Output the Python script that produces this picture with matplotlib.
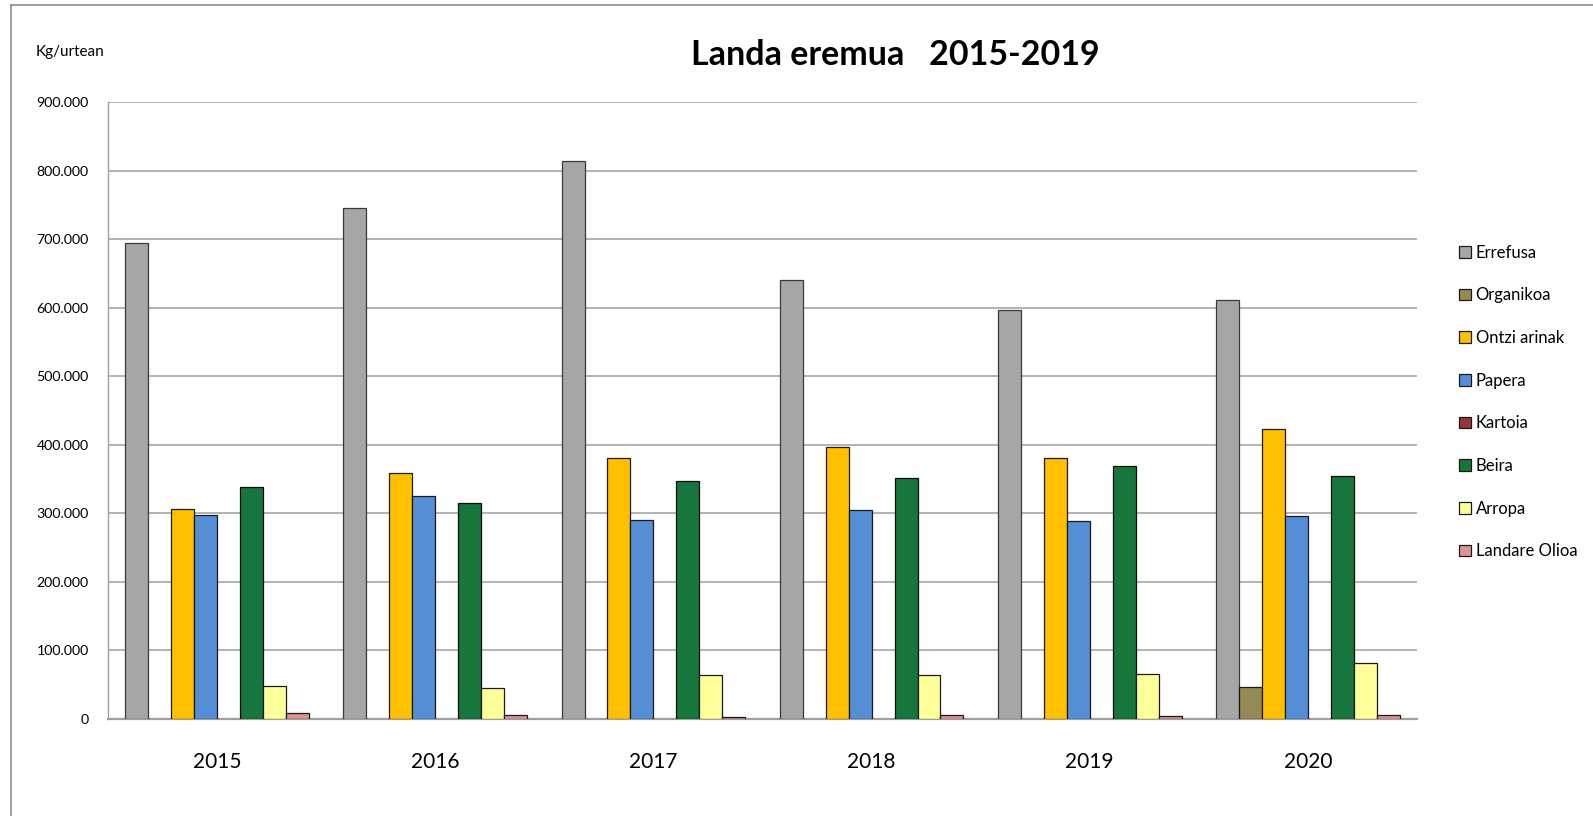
import matplotlib
matplotlib.use("Agg")
import matplotlib.pyplot as plt
from matplotlib.lines import Line2D
from matplotlib.patches import Patch
from matplotlib.ticker import FuncFormatter
import numpy as np

plt.rcParams['font.family'] = ['Lato', 'DejaVu Sans']

years = ["2015", "2016", "2017", "2018", "2019", "2020"]
series_names = ["Errefusa", "Organikoa", "Ontzi arinak", "Papera",
                "Kartoia", "Beira", "Arropa", "Landare Olioa"]

errefusa = [695000, 745000, 814000, 641000, 597000, 611000]
organikoa = [0, 0, 0, 0, 0, 46000]
ontzi_arinak = [307000, 359000, 380000, 397000, 380000, 423000]
papera = [297000, 325000, 290000, 305000, 289000, 296000]
kartoia = [0, 0, 0, 0, 0, 0]
beira = [339000, 315000, 347000, 351000, 369000, 354000]
arropa = [48000, 45000, 64000, 64000, 65000, 81000]
landare_olioa = [9000, 6000, 3500, 6000, 4000, 6500]

series_values = [errefusa, organikoa, ontzi_arinak, papera,
                 kartoia, beira, arropa, landare_olioa]
colors = ["#A6A6A6", "#948A54", "#FFC000", "#558ED5",
          "#953735", "#17763D", "#FFFF99", "#D99694"]
edge_colors = ["#3a3a3a", "#1a1a1a", "#1a1a1a", "#1a1a1a",
               "#1a1a1a", "#0a0a0a", "#1a1a1a", "#1a1a1a"]

fig = plt.figure(figsize=(15.93, 8.16), dpi=100)
ax = fig.add_axes([108 / 1593, 1 - 719 / 816, (1417 - 108) / 1593, (719 - 102) / 816])

n = len(series_names)
width = 1 / (n + 1.5)
x = np.arange(len(years))
for j, (vals, c, ec) in enumerate(zip(series_values, colors, edge_colors)):
    lws = [0.9 if v > 0 else 0 for v in vals]
    ax.bar(x + (j - (n - 1) / 2) * width, vals, width, color=c,
           edgecolor=ec, linewidth=lws, zorder=3)

ax.set_xlim(-0.5, len(years) - 0.5)
ax.set_ylim(0, 900000)
ax.set_yticks(np.arange(0, 900001, 100000))
ax.yaxis.set_major_formatter(FuncFormatter(lambda v, p: f"{int(v):,}".replace(",", ".")))
ax.set_xticks(x)
ax.set_xticklabels(years, fontsize=15)
ax.tick_params(axis='y', length=0, pad=14, labelsize=10.2)
ax.tick_params(axis='x', length=0, pad=24)
ax.grid(axis='y', color='#9f9f9f', linewidth=1.1, zorder=0)
ax.set_axisbelow(True)
for s in ('top', 'right'):
    ax.spines[s].set_visible(False)
ax.spines['left'].set_color('#9f9f9f')
ax.spines['left'].set_linewidth(1.0)
ax.spines['bottom'].set_color('#9f9f9f')
ax.spines['bottom'].set_linewidth(1.6)

fig.text(895 / 1593, 1 - 55 / 816, "Landa eremua   2015-2019", ha='center', va='center',
         fontsize=24.5, fontweight='bold')
fig.text(36 / 1593, 1 - 52 / 816, "Kg/urtean", ha='left', va='center', fontsize=11)

handles = [Patch(facecolor=c, edgecolor='#1a1a1a', linewidth=0.9) for c in colors]
fig.legend(handles, series_names, loc='upper left',
           bbox_to_anchor=(1452 / 1593, 1 - 238 / 816), frameon=False,
           fontsize=12, handlelength=0.72, handleheight=0.72,
           handletextpad=0.3, labelspacing=1.60, borderaxespad=0)

# outer chart frame (left and top edges)
fig.add_artist(Line2D([11 / 1593, 11 / 1593], [0, 1 - 5 / 816], transform=fig.transFigure,
                      color='#8c8c8c', linewidth=1.2))
fig.add_artist(Line2D([11 / 1593, 1], [1 - 5 / 816, 1 - 5 / 816], transform=fig.transFigure,
                      color='#8c8c8c', linewidth=1.2))

fig.savefig("out.png", dpi=100)
